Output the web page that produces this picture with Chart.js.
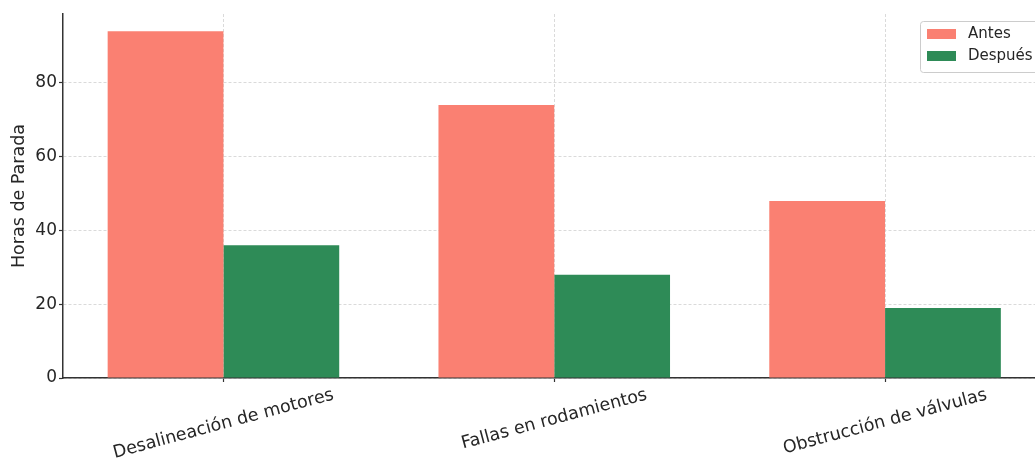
<!DOCTYPE html>
<html>
<head>
<meta charset="utf-8">
<script src="https://cdn.jsdelivr.net/npm/chart.js@4.4.1/dist/chart.umd.min.js"></script>
<style>
  html, body { margin: 0; padding: 0; background: #fff; overflow: hidden; }
  #wrap { width: 1035px; height: 460px; overflow: hidden; }
</style>
</head>
<body>
<div id="wrap"><canvas id="myChart" width="1060" height="460"></canvas></div>
<script>
// horas de parada por tipo de falla, antes y después
const categories = ["Desalineación de motores", "Fallas en rodamientos", "Obstrucción de válvulas"];
const antes = [94, 74, 48];
const despues = [36, 28, 19];
const yTicks = [0, 20, 40, 60, 80];

const FONT = "'DejaVu Sans', sans-serif";
const ctx = document.getElementById("myChart").getContext("2d");

// etiquetas del eje x giradas 15 grados, centradas en cada tick
const rotatedLabels = {
  id: "rotatedLabels",
  afterDraw(chart) {
    const c = chart.ctx;
    const xs = chart.scales.x;
    const bottom = chart.chartArea.bottom;
    const ang = 15 * Math.PI / 180;
    c.save();
    c.font = "17.5px " + FONT;
    c.fillStyle = "#262626";
    c.textAlign = "center";
    c.textBaseline = "middle";
    categories.forEach((lab, i) => {
      const w = c.measureText(lab).width;
      const h = 20;
      const bh = w * Math.sin(ang) + h * Math.cos(ang);
      c.save();
      c.translate(xs.getPixelForValue(i), bottom + 7 + bh / 2);
      c.rotate(-ang);
      c.fillText(lab, 0, 0);
      c.restore();
    });
    c.restore();
  }
};

// leyenda dentro del área de la gráfica, arriba a la derecha
const boxLegend = {
  id: "boxLegend",
  afterDraw(chart) {
    const c = chart.ctx;
    const bx = 920.5, by = 21.5, bw = 125, bh = 51;
    c.save();
    c.fillStyle = "rgba(255,255,255,0.8)";
    c.strokeStyle = "#cccccc";
    c.lineWidth = 1;
    c.beginPath();
    c.roundRect(bx, by, bw, bh, 3);
    c.fill();
    c.stroke();
    c.font = "15px " + FONT;
    c.textBaseline = "middle";
    chart.data.datasets.forEach((ds, i) => {
      const cy = 34 + i * 22;
      c.fillStyle = ds.backgroundColor;
      c.fillRect(927, cy - 5, 29, 10);
      c.fillStyle = "#262626";
      c.fillText(ds.label, 968, cy);
    });
    c.restore();
  }
};

const gridOpts = {
  offset: false,
  color: "#d0d0d0",
  lineWidth: 0.8,
  tickColor: "#333",
  tickBorderDash: [],
  tickWidth: 1.2,
  tickLength: 4
};

const config = {
  type: "bar",
  data: {
    datasets: [
      {
        label: "Antes",
        data: antes.map((v, i) => ({ x: i, y: v })),
        backgroundColor: "#fa8072",
        borderWidth: 0,
        barPercentage: 1,
        categoryPercentage: 0.7
      },
      {
        label: "Después",
        data: despues.map((v, i) => ({ x: i, y: v })),
        backgroundColor: "#2e8b57",
        borderWidth: 0,
        barPercentage: 1,
        categoryPercentage: 0.7
      }
    ]
  },
  options: {
    responsive: false,
    animation: false,
    devicePixelRatio: 1,
    layout: { padding: { left: 0, top: 14, right: 14.5, bottom: 0 } },
    plugins: {
      legend: { display: false },
      tooltip: { enabled: false }
    },
    scales: {
      x: {
        type: "linear",
        min: -0.485,
        max: 2.485,
        offset: false,
        afterFit: (s) => { s.height = 82; },
        afterBuildTicks: (s) => { s.ticks = categories.map((c, i) => ({ value: i })); },
        ticks: { color: "rgba(0,0,0,0)", font: { family: FONT, size: 16 } },
        grid: gridOpts,
        border: { color: "#333", width: 1.5, dash: [3, 2] }
      },
      y: {
        min: 0,
        max: 98.7,
        afterFit: (s) => { s.width = 63; },
        afterBuildTicks: (s) => { s.ticks = yTicks.map(v => ({ value: v })); },
        ticks: { color: "#262626", padding: 2, font: { family: FONT, size: 17 } },
        title: {
          display: true,
          text: "Horas de Parada",
          color: "#262626",
          font: { family: FONT, size: 17.5 },
          padding: { top: 9, bottom: 0 }
        },
        grid: gridOpts,
        border: { color: "#333", width: 1.5, dash: [3, 2] }
      }
    }
  },
  plugins: [rotatedLabels, boxLegend]
};

const myChart = new Chart(ctx, config);
</script>
</body>
</html>
